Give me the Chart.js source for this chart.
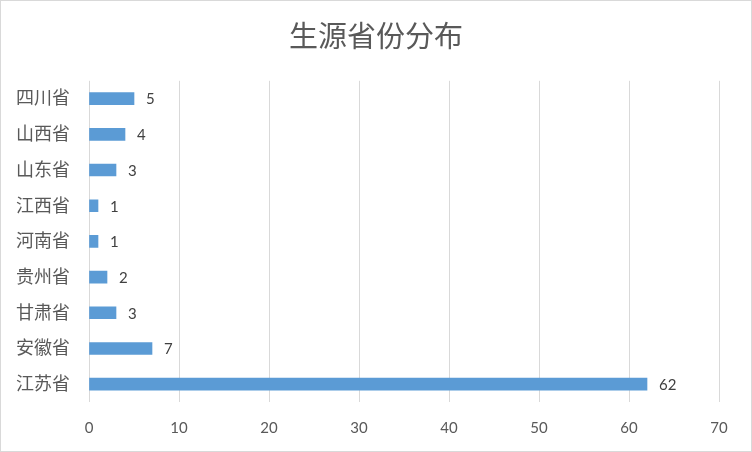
<!DOCTYPE html>
<html>
<head>
<meta charset="utf-8">
<script src="https://cdn.jsdelivr.net/npm/chart.js@4/dist/chart.umd.min.js"></script>
<style>
    body { margin: 0; background: #fff; }
    #wrap { width: 750px; height: 450px; border: 1px solid #d9d9d9; }
</style>
</head>
<body>
<div id="wrap"><canvas id="myChart" width="750" height="450"></canvas></div>
<script>
var provinces = ['四川省', '山西省', '山东省', '江西省', '河南省', '贵州省', '甘肃省', '安徽省', '江苏省'];
var studentCounts = [5, 4, 3, 1, 1, 2, 3, 7, 62];
var xTicks = [0, 10, 20, 30, 40, 50, 60, 70];

var fontFamily = "Lato, 'Noto Sans CJK SC', sans-serif";

// value labels to the right of each bar
var barLabels = {
    id: 'barLabels',
    afterDatasetsDraw: function (chart) {
        var ctx = chart.ctx;
        var meta = chart.getDatasetMeta(0);
        ctx.save();
        ctx.font = '15px ' + fontFamily;
        ctx.fillStyle = '#404040';
        ctx.textAlign = 'left';
        ctx.textBaseline = 'middle';
        meta.data.forEach(function (bar, i) {
            ctx.fillText(String(studentCounts[i]), bar.x + 12, bar.y + 1);
        });
        ctx.restore();
    }
};

var ctx = document.getElementById('myChart');
var myChart = new Chart(ctx, {
    type: 'bar',
    data: {
        labels: provinces,
        datasets: [{
            label: '生源省份',
            data: studentCounts,
            backgroundColor: '#5b9bd5',
            barThickness: 12
        }]
    },
    options: {
        indexAxis: 'y',
        responsive: false,
        animation: false,
        layout: { padding: 0 },
        plugins: {
            legend: { display: false },
            tooltip: { enabled: false },
            title: {
                display: true,
                text: '生源省份分布',
                color: '#595959',
                font: { family: fontFamily, size: 29, weight: 'normal' },
                padding: { top: 19, bottom: 26 }
            }
        },
        scales: {
            x: {
                min: 0,
                max: 70,
                afterBuildTicks: function (scale) {
                    scale.ticks = xTicks.map(function (v) { return { value: v }; });
                },
                afterFit: function (scale) { scale.height = 49; },
                grid: { color: '#d9d9d9', drawTicks: false },
                border: { display: false },
                ticks: {
                    color: '#595959',
                    padding: 17,
                    font: { family: fontFamily, size: 15 }
                }
            },
            y: {
                afterFit: function (scale) { scale.width = 88; },
                grid: { display: false },
                border: { display: false },
                ticks: {
                    color: '#595959',
                    padding: 11,
                    font: { family: fontFamily, size: 18 }
                }
            },
            // empty right-hand margin so the title stays centred on the whole box
            yRight: {
                type: 'linear',
                position: 'right',
                afterFit: function (scale) { scale.width = 32; },
                grid: { display: false },
                border: { display: false },
                ticks: { display: false }
            }
        }
    },
    plugins: [barLabels]
});
</script>
</body>
</html>
